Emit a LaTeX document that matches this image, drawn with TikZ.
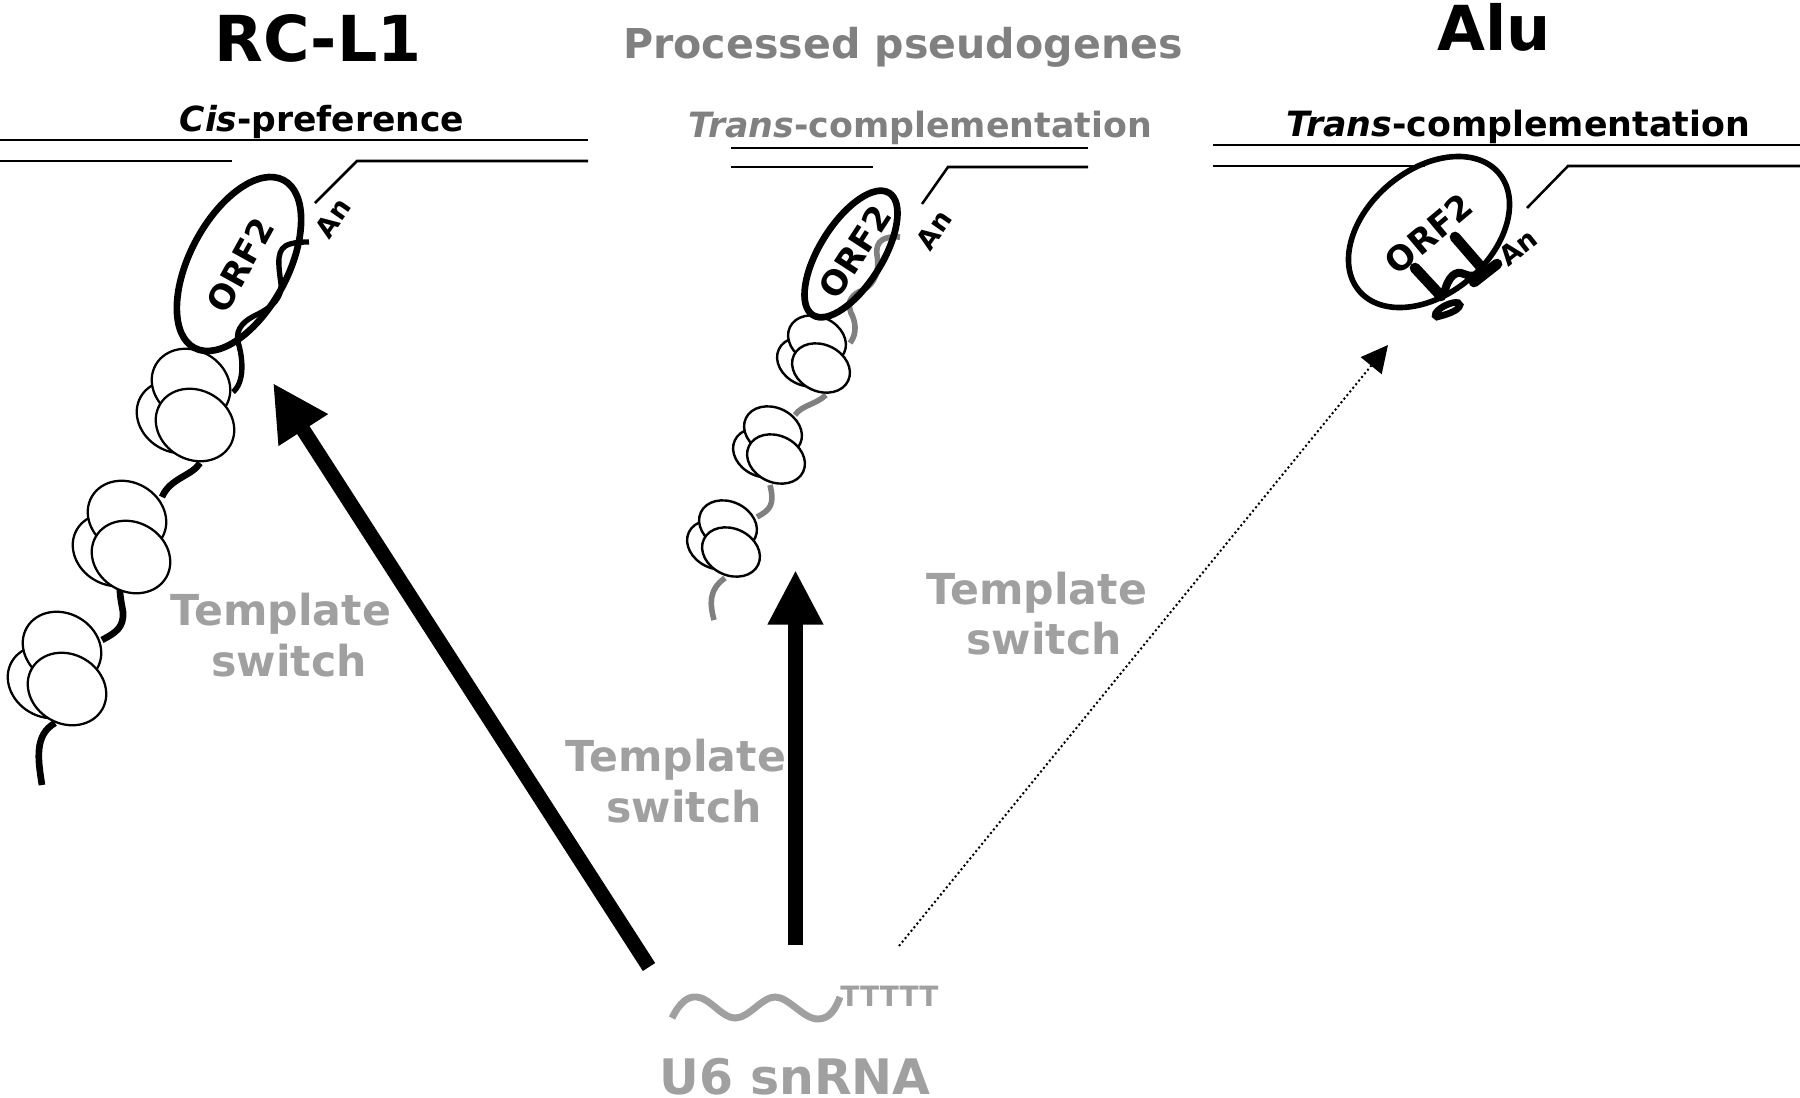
\documentclass[tikz,border=0pt]{standalone}
\usepackage{fontspec}
\setmainfont{DejaVu Sans}
\usetikzlibrary{arrows.meta,shapes.geometric}
\definecolor{midgrey}{HTML}{808080}
\definecolor{lightgrey}{HTML}{A0A0A0}
\tikzset{
  x=0.75pt,y=-0.75pt,
  rule/.style={line width=1.9pt,black},
  rib/.style={draw,fill=white,ellipse,inner sep=0pt,line width=1.7pt,rotate=-30,minimum width=61pt,minimum height=52pt},
  ribs/.style={draw,fill=white,ellipse,inner sep=0pt,line width=1.8pt,rotate=-25,minimum width=45pt,minimum height=35pt},
  orf/.style={draw,ellipse,inner sep=0pt,line width=5pt},
  lbl/.style={inner sep=0pt,font=\bfseries},
  strandblack/.style={line width=5pt,black,line cap=butt},
  strandgrey/.style={line width=4.2pt,midgrey,line cap=butt},
  tmpl/.style={lightgrey,inner sep=0pt,anchor=base,font=\fontsize{32}{38}\selectfont\bfseries},
}
\begin{document}
\begin{tikzpicture}
\useasboundingbox (0,0) rectangle (1800,1097);
% titles
\node[lbl,anchor=base] (t1) at (318,61) {\fontsize{47.5}{50}\selectfont RC-L1};
\node[lbl,anchor=base,midgrey] (t2) at (903,58) {\fontsize{30.85}{34}\selectfont Processed pseudogenes};
\node[lbl,anchor=base] (t3) at (1494,50) {\fontsize{46.5}{50}\selectfont Alu};
\node[lbl,anchor=base] (s1) at (322,131) {\fontsize{25.9}{30}\selectfont\textit{Cis}-preference};
\node[lbl,anchor=base,midgrey] (s2) at (920,137) {\fontsize{26.1}{30}\selectfont\textit{Trans}-complementation};
\node[lbl,anchor=base] (s3) at (1518,136) {\fontsize{26.1}{30}\selectfont\textit{Trans}-complementation};
% DNA lines, left
\coordinate (a1) at (0,140); \coordinate (a2) at (588,140);
\coordinate (a3) at (0,161); \coordinate (a4) at (232,161);
\coordinate (a5) at (315,203); \coordinate (a6) at (357,161); \coordinate (a7) at (588,161);
\draw[rule] (a1) -- (a2); \draw[rule] (a3) -- (a4); \draw[rule] (a5) -- (a6) -- (a7);
% DNA lines, middle
\coordinate (b1) at (731,148); \coordinate (b2) at (1088,148);
\coordinate (b3) at (731,167); \coordinate (b4) at (873,167);
\coordinate (b5) at (922,204); \coordinate (b6) at (948,167); \coordinate (b7) at (1088,167);
\draw[rule] (b1) -- (b2); \draw[rule] (b3) -- (b4); \draw[rule] (b5) -- (b6) -- (b7);
% DNA lines, right
\coordinate (c1) at (1213,145); \coordinate (c2) at (1800,145);
\coordinate (c3) at (1213,166); \coordinate (c4) at (1425,166);
\coordinate (c5) at (1527,208); \coordinate (c6) at (1568,166); \coordinate (c7) at (1800,166);
\draw[rule] (c1) -- (c2); \draw[rule] (c3) -- (c4); \draw[rule] (c5) -- (c6) -- (c7);
% strand left
\draw[strandblack] (42,785) .. controls (38,760) and (34,735) .. (55,723);
\draw[strandblack] (102,640) .. controls (115,633) and (124,628) .. (123,612) .. controls (122,605) and (120,598) .. (120,590);
\draw[strandblack] (162,497) .. controls (170,478) and (192,476) .. (200,463);
\draw[line width=4pt,black] (233,392) .. controls (245,382) and (243,358) .. (238,342) .. controls (235,328) and (245,320) .. (258,314) .. controls (272,307) and (282,298) .. (281,284) .. controls (278,262) and (276,248) .. (290,244) .. controls (297,242) and (303,242) .. (309,242);
% ribosomes left
\node[rib] (r1a) at (176,417) {}; \node[rib] (r1b) at (191,385) {}; \node[rib] (r1c) at (195,425) {};
\node[rib] (r2a) at (112,550) {}; \node[rib] (r2b) at (127,517) {}; \node[rib] (r2c) at (131,557) {};
\node[rib] (r3a) at (47,682) {}; \node[rib] (r3b) at (62,648) {}; \node[rib] (r3c) at (67,689) {};
% ORF2 left
\node[orf,rotate=62,minimum width=142.5pt,minimum height=73.5pt] (o1) at (239,264) {};
\node[lbl,rotate=61] (o1t) at (240,265) {\fontsize{25.5}{30}\selectfont ORF2};
\node[lbl,rotate=55] (an1) at (333,218) {\fontsize{20.25}{24}\selectfont An};
% strand middle
\draw[strandgrey] (714,620) .. controls (710,605) and (708,590) .. (725,578);
\draw[strandgrey] (757,517) .. controls (770,510) and (775,505) .. (770,485);
\draw[strandgrey] (795,415) .. controls (802,405) and (815,405) .. (826,395);
\draw[strandgrey] (850,343) .. controls (858,333) and (855,320) .. (851,313) .. controls (846,300) and (853,294) .. (863,290) .. controls (875,284) and (880,270) .. (877,255) .. controls (875,240) and (885,236) .. (900,237);
% ribosomes middle
\node[ribs] (r4a) at (806,362) {}; \node[ribs] (r4b) at (817,340) {}; \node[ribs] (r4c) at (821,368) {};
\node[ribs] (r5a) at (762,453) {}; \node[ribs] (r5b) at (773,431) {}; \node[ribs] (r5c) at (776,459) {};
\node[ribs] (r6a) at (716,545) {}; \node[ribs] (r6b) at (728,525) {}; \node[ribs] (r6c) at (731,552) {};
% ORF2 middle
\node[orf,rotate=58,minimum width=108pt,minimum height=47pt] (o2) at (851,254) {};
\node[lbl,rotate=57] (o2t) at (855,252) {\fontsize{25.5}{28}\selectfont ORF2};
\node[lbl,rotate=55] (an2) at (934,230) {\fontsize{20.25}{24}\selectfont An};
% Alu
\node[orf,rotate=40,line width=4.2pt,minimum width=137pt,minimum height=93pt] (o3) at (1429,232) {};
\node[lbl,rotate=40] (o3t) at (1429,234) {\fontsize{25.5}{30}\selectfont ORF2};
\node[lbl,rotate=38] (an3) at (1518,247) {\fontsize{20.25}{24}\selectfont An};
\draw[line width=8pt,line cap=round] (1415,268) -- (1441,296);
\draw[line width=8pt,line cap=round] (1455,237) -- (1481,267);
\draw[line width=8pt,line cap=round] (1474,282) -- (1497,264);
\draw[line width=6pt] (1444,294) .. controls (1448,276) and (1456,270) .. (1464,274) .. controls (1470,277) and (1475,276) .. (1484,272);
\draw[line width=5pt,line cap=round,fill=white] (1437,317) .. controls (1445,315) and (1459,311) .. (1460,305) .. controls (1460,300) and (1448,303) .. (1441,308) .. controls (1436,311) and (1433,316) .. (1437,317) -- cycle;
% U6
\coordinate (w0) at (672,1018);
\draw[line width=5.2pt,lightgrey] (w0) .. controls (680,1002) and (688,996) .. (697,997) .. controls (710,998) and (722,1018) .. (735,1018) .. controls (749,1018) and (762,997) .. (775,997) .. controls (789,997) and (803,1019) .. (818,1019) .. controls (830,1019) and (836,1008) .. (840,997);
\node[inner sep=0pt,anchor=base,lightgrey,font=\fontsize{21}{24}\selectfont\bfseries] (tt) at (889.5,1006) {TTTTT};
\node[inner sep=0pt,anchor=base,lightgrey,font=\fontsize{36.7}{40}\selectfont\bfseries] (u6) at (795,1094) {U6 snRNA};
% labels
\node[tmpl] (l1a) at (281,625) {Template}; \node[tmpl] (l1b) at (289,676) {switch};
\node[tmpl] (l2a) at (676,771) {Template}; \node[tmpl] (l2b) at (684,822) {switch};
\node[tmpl] (l3a) at (1037,604) {Template}; \node[tmpl] (l3b) at (1044,654) {switch};
% arrows
\coordinate (ar1s) at (649,967); \coordinate (ar1e) at (273,383);
\coordinate (ar2s) at (795.5,945); \coordinate (ar2e) at (795.5,570);
\coordinate (ar3s) at (899,946); \coordinate (ar3e) at (1388,345);
\draw[line width=11pt,-{Triangle[length=42pt,width=41pt]}] (ar1s) -- (ar1e);
\draw[line width=11pt,-{Triangle[length=41pt,width=39pt]}] (ar2s) -- (ar2e);
\draw[line width=1.5pt,dotted,-{Triangle[length=20pt,width=20pt]}] (ar3s) -- (ar3e);
\end{tikzpicture}
\end{document}
